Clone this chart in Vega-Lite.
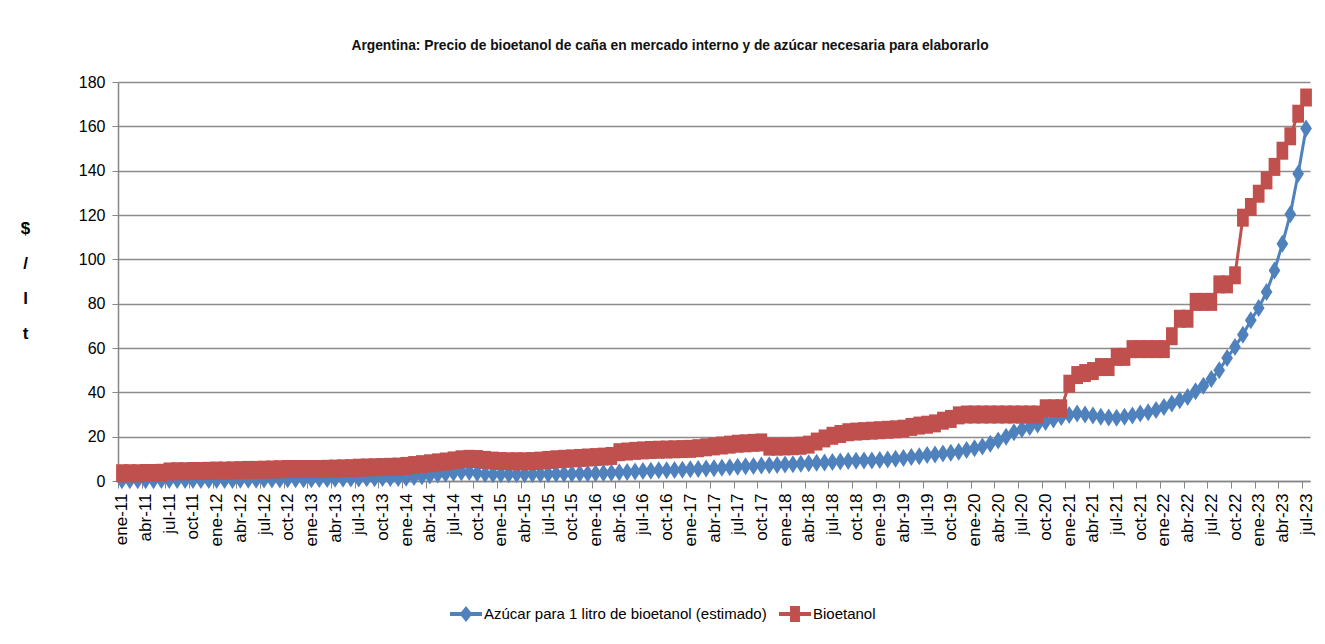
{
  "$schema": "https://vega.github.io/schema/vega-lite/v6.json",
  "width": 1192,
  "height": 399,
  "autosize": "none",
  "padding": {"left": 118, "top": 82, "right": 15, "bottom": 163},
  "background": "white",
  "title": {
    "text": "Argentina: Precio de bioetanol de caña en mercado interno y de azúcar necesaria para elaborarlo",
    "font": "Liberation Sans",
    "fontSize": 13.8,
    "fontWeight": "bold",
    "color": "#111111",
    "anchor": "middle",
    "dx": -44,
    "offset": 21
  },
  "config": {
    "view": {"stroke": null},
    "font": "Liberation Sans"
  },
  "data": {
    "values": [
      {"mes":"ene-11","azucar":0.3,"bioetanol":3.5},{"mes":"feb-11","azucar":0.3,"bioetanol":3.5},{"mes":"mar-11","azucar":0.3,"bioetanol":3.5},{"mes":"abr-11","azucar":0.3,"bioetanol":3.6},{"mes":"may-11","azucar":0.3,"bioetanol":3.6},{"mes":"jun-11","azucar":0.4,"bioetanol":3.7},{"mes":"jul-11","azucar":0.4,"bioetanol":4.3},{"mes":"ago-11","azucar":0.4,"bioetanol":4.4},{"mes":"sep-11","azucar":0.4,"bioetanol":4.4},{"mes":"oct-11","azucar":0.4,"bioetanol":4.5},{"mes":"nov-11","azucar":0.5,"bioetanol":4.5},{"mes":"dic-11","azucar":0.5,"bioetanol":4.6},
      {"mes":"ene-12","azucar":0.5,"bioetanol":4.7},{"mes":"feb-12","azucar":0.5,"bioetanol":4.7},{"mes":"mar-12","azucar":0.5,"bioetanol":4.8},{"mes":"abr-12","azucar":0.6,"bioetanol":4.9},{"mes":"may-12","azucar":0.6,"bioetanol":5.0},{"mes":"jun-12","azucar":0.6,"bioetanol":5.0},{"mes":"jul-12","azucar":0.7,"bioetanol":5.1},{"mes":"ago-12","azucar":0.7,"bioetanol":5.2},{"mes":"sep-12","azucar":0.7,"bioetanol":5.3},{"mes":"oct-12","azucar":0.8,"bioetanol":5.4},{"mes":"nov-12","azucar":0.8,"bioetanol":5.4},{"mes":"dic-12","azucar":0.8,"bioetanol":5.4},
      {"mes":"ene-13","azucar":0.8,"bioetanol":5.4},{"mes":"feb-13","azucar":0.9,"bioetanol":5.4},{"mes":"mar-13","azucar":0.9,"bioetanol":5.5},{"mes":"abr-13","azucar":1.0,"bioetanol":5.6},{"mes":"may-13","azucar":1.0,"bioetanol":5.7},{"mes":"jun-13","azucar":1.1,"bioetanol":5.8},{"mes":"jul-13","azucar":1.1,"bioetanol":6.0},{"mes":"ago-13","azucar":1.2,"bioetanol":6.1},{"mes":"sep-13","azucar":1.2,"bioetanol":6.2},{"mes":"oct-13","azucar":1.3,"bioetanol":6.3},{"mes":"nov-13","azucar":1.3,"bioetanol":6.4},{"mes":"dic-13","azucar":1.4,"bioetanol":6.5},
      {"mes":"ene-14","azucar":1.5,"bioetanol":6.8},{"mes":"feb-14","azucar":1.8,"bioetanol":7.2},{"mes":"mar-14","azucar":2.1,"bioetanol":7.6},{"mes":"abr-14","azucar":2.5,"bioetanol":8.0},{"mes":"may-14","azucar":2.9,"bioetanol":8.4},{"mes":"jun-14","azucar":3.3,"bioetanol":8.8},{"mes":"jul-14","azucar":3.7,"bioetanol":9.3},{"mes":"ago-14","azucar":4.0,"bioetanol":9.8},{"mes":"sep-14","azucar":4.1,"bioetanol":10.0},{"mes":"oct-14","azucar":3.6,"bioetanol":9.9},{"mes":"nov-14","azucar":3.2,"bioetanol":9.5},{"mes":"dic-14","azucar":3.1,"bioetanol":9.2},
      {"mes":"ene-15","azucar":3.1,"bioetanol":9.0},{"mes":"feb-15","azucar":3.1,"bioetanol":8.9},{"mes":"mar-15","azucar":3.1,"bioetanol":8.9},{"mes":"abr-15","azucar":3.1,"bioetanol":8.9},{"mes":"may-15","azucar":3.2,"bioetanol":9.0},{"mes":"jun-15","azucar":3.2,"bioetanol":9.2},{"mes":"jul-15","azucar":3.2,"bioetanol":9.5},{"mes":"ago-15","azucar":3.3,"bioetanol":9.8},{"mes":"sep-15","azucar":3.3,"bioetanol":10.0},{"mes":"oct-15","azucar":3.3,"bioetanol":10.2},{"mes":"nov-15","azucar":3.4,"bioetanol":10.4},{"mes":"dic-15","azucar":3.4,"bioetanol":10.6},
      {"mes":"ene-16","azucar":3.5,"bioetanol":10.8},{"mes":"feb-16","azucar":3.6,"bioetanol":11.0},{"mes":"mar-16","azucar":3.7,"bioetanol":11.3},{"mes":"abr-16","azucar":3.9,"bioetanol":13.0},{"mes":"may-16","azucar":4.1,"bioetanol":13.3},{"mes":"jun-16","azucar":4.3,"bioetanol":13.6},{"mes":"jul-16","azucar":4.5,"bioetanol":13.8},{"mes":"ago-16","azucar":4.6,"bioetanol":14.0},{"mes":"sep-16","azucar":4.8,"bioetanol":14.1},{"mes":"oct-16","azucar":4.9,"bioetanol":14.2},{"mes":"nov-16","azucar":5.0,"bioetanol":14.3},{"mes":"dic-16","azucar":5.1,"bioetanol":14.4},
      {"mes":"ene-17","azucar":5.3,"bioetanol":14.5},{"mes":"feb-17","azucar":5.4,"bioetanol":14.8},{"mes":"mar-17","azucar":5.6,"bioetanol":15.2},{"mes":"abr-17","azucar":5.8,"bioetanol":15.6},{"mes":"may-17","azucar":6.0,"bioetanol":16.0},{"mes":"jun-17","azucar":6.2,"bioetanol":16.4},{"mes":"jul-17","azucar":6.4,"bioetanol":16.8},{"mes":"ago-17","azucar":6.6,"bioetanol":17.0},{"mes":"sep-17","azucar":6.8,"bioetanol":17.2},{"mes":"oct-17","azucar":7.0,"bioetanol":17.4},{"mes":"nov-17","azucar":7.1,"bioetanol":15.5},{"mes":"dic-17","azucar":7.2,"bioetanol":15.5},
      {"mes":"ene-18","azucar":7.4,"bioetanol":15.6},{"mes":"feb-18","azucar":7.6,"bioetanol":15.7},{"mes":"mar-18","azucar":7.8,"bioetanol":15.9},{"mes":"abr-18","azucar":8.0,"bioetanol":16.4},{"mes":"may-18","azucar":8.2,"bioetanol":17.8},{"mes":"jun-18","azucar":8.4,"bioetanol":19.2},{"mes":"jul-18","azucar":8.6,"bioetanol":20.4},{"mes":"ago-18","azucar":8.8,"bioetanol":21.2},{"mes":"sep-18","azucar":9.0,"bioetanol":22.0},{"mes":"oct-18","azucar":9.1,"bioetanol":22.3},{"mes":"nov-18","azucar":9.2,"bioetanol":22.5},{"mes":"dic-18","azucar":9.3,"bioetanol":22.7},
      {"mes":"ene-19","azucar":9.5,"bioetanol":22.9},{"mes":"feb-19","azucar":9.7,"bioetanol":23.1},{"mes":"mar-19","azucar":10.0,"bioetanol":23.3},{"mes":"abr-19","azucar":10.4,"bioetanol":23.6},{"mes":"may-19","azucar":10.8,"bioetanol":24.4},{"mes":"jun-19","azucar":11.2,"bioetanol":25.0},{"mes":"jul-19","azucar":11.7,"bioetanol":25.4},{"mes":"ago-19","azucar":12.0,"bioetanol":26.0},{"mes":"sep-19","azucar":12.4,"bioetanol":27.2},{"mes":"oct-19","azucar":12.7,"bioetanol":28.0},{"mes":"nov-19","azucar":13.2,"bioetanol":29.6},{"mes":"dic-19","azucar":14.0,"bioetanol":30.0},
      {"mes":"ene-20","azucar":14.8,"bioetanol":30.0},{"mes":"feb-20","azucar":15.6,"bioetanol":30.0},{"mes":"mar-20","azucar":16.8,"bioetanol":30.0},{"mes":"abr-20","azucar":18.3,"bioetanol":30.0},{"mes":"may-20","azucar":20.0,"bioetanol":30.0},{"mes":"jun-20","azucar":22.0,"bioetanol":30.0},{"mes":"jul-20","azucar":23.3,"bioetanol":30.0},{"mes":"ago-20","azucar":24.4,"bioetanol":30.0},{"mes":"sep-20","azucar":25.5,"bioetanol":30.0},{"mes":"oct-20","azucar":26.6,"bioetanol":32.8},{"mes":"nov-20","azucar":27.8,"bioetanol":32.8},{"mes":"dic-20","azucar":28.9,"bioetanol":32.8},
      {"mes":"ene-21","azucar":29.8,"bioetanol":43.9},{"mes":"feb-21","azucar":30.4,"bioetanol":47.8},{"mes":"mar-21","azucar":30.0,"bioetanol":48.7},{"mes":"abr-21","azucar":29.5,"bioetanol":49.6},{"mes":"may-21","azucar":29.0,"bioetanol":51.4},{"mes":"jun-21","azucar":28.6,"bioetanol":51.4},{"mes":"jul-21","azucar":28.5,"bioetanol":56.0},{"mes":"ago-21","azucar":29.0,"bioetanol":56.0},{"mes":"sep-21","azucar":29.6,"bioetanol":59.5},{"mes":"oct-21","azucar":30.4,"bioetanol":59.5},{"mes":"nov-21","azucar":31.0,"bioetanol":59.5},{"mes":"dic-21","azucar":32.0,"bioetanol":59.5},
      {"mes":"ene-22","azucar":33.4,"bioetanol":59.5},{"mes":"feb-22","azucar":35.0,"bioetanol":65.3},{"mes":"mar-22","azucar":36.4,"bioetanol":73.2},{"mes":"abr-22","azucar":37.9,"bioetanol":73.2},{"mes":"may-22","azucar":40.5,"bioetanol":80.8},{"mes":"jun-22","azucar":43.0,"bioetanol":80.8},{"mes":"jul-22","azucar":46.0,"bioetanol":80.8},{"mes":"ago-22","azucar":50.0,"bioetanol":88.7},{"mes":"sep-22","azucar":55.5,"bioetanol":88.7},{"mes":"oct-22","azucar":60.5,"bioetanol":92.8},{"mes":"nov-22","azucar":66.0,"bioetanol":118.8},{"mes":"dic-22","azucar":72.5,"bioetanol":123.6},
      {"mes":"ene-23","azucar":78.0,"bioetanol":129.6},{"mes":"feb-23","azucar":85.3,"bioetanol":135.6},{"mes":"mar-23","azucar":95.0,"bioetanol":141.7},{"mes":"abr-23","azucar":107.0,"bioetanol":149.0},{"mes":"may-23","azucar":120.3,"bioetanol":155.5},{"mes":"jun-23","azucar":138.6,"bioetanol":165.7},{"mes":"jul-23","azucar":159.0,"bioetanol":173.0}
    ]
  },
  "encoding": {
    "x": {
      "field": "mes",
      "type": "ordinal",
      "sort": null,
      "title": null,
      "axis": {
        "values": ["ene-11","abr-11","jul-11","oct-11","ene-12","abr-12","jul-12","oct-12","ene-13","abr-13","jul-13","oct-13","ene-14","abr-14","jul-14","oct-14","ene-15","abr-15","jul-15","oct-15","ene-16","abr-16","jul-16","oct-16","ene-17","abr-17","jul-17","oct-17","ene-18","abr-18","jul-18","oct-18","ene-19","abr-19","jul-19","oct-19","ene-20","abr-20","jul-20","oct-20","ene-21","abr-21","jul-21","oct-21","ene-22","abr-22","jul-22","oct-22","ene-23","abr-23","jul-23"],
        "labelAngle": -90,
        "labelFontSize": 17,
        "labelColor": "#000000",
        "labelFont": "Liberation Sans",
        "labelPadding": 5,
        "tickSize": 7,
        "tickColor": "#868686",
        "tickWidth": 1,
        "tickOffset": -4,
        "labelOffset": 4,
        "domainColor": "#868686",
        "domainWidth": 1.5,
        "grid": false
      }
    }
  },
  "layer": [
    {
      "mark": {"type": "line", "strokeWidth": 3},
      "encoding": {
        "y": {
          "field": "azucar",
          "type": "quantitative",
          "scale": {"domain": [0, 180], "nice": false},
          "axis": {
            "values": [0,20,40,60,80,100,120,140,160,180],
            "title": ["$", "/", "l", "t"],
            "titleAngle": 0,
            "titleFont": "Liberation Sans",
            "titleFontSize": 17,
            "titleFontWeight": "bold",
            "titleColor": "#000000",
            "titleLineHeight": 35,
            "titleAlign": "center",
            "titleBaseline": "top",
            "titleX": -93,
            "titleY": 138,
            "labelFontSize": 16,
            "labelFont": "Liberation Sans",
            "labelColor": "#000000",
            "labelPadding": 7,
            "tickSize": 6,
            "tickColor": "#868686",
            "domainColor": "#868686",
            "domainWidth": 1.5,
            "grid": true,
            "gridColor": "#8C8C8C",
            "gridWidth": 1.5
          }
        },
        "color": {
          "datum": "Azúcar para 1 litro de bioetanol (estimado)",
          "type": "nominal",
          "scale": {
            "domain": ["Azúcar para 1 litro de bioetanol (estimado)", "Bioetanol"],
            "range": ["#4F81BD", "#C0504D"]
          },
          "legend": {
            "title": null,
            "orient": "none",
            "legendX": 332,
            "legendY": 516,
            "direction": "horizontal",
            "padding": 0,
            "symbolSize": 1024,
            "symbolStrokeWidth": 0,
            "labelFont": "Liberation Sans",
            "labelFontSize": 15,
            "labelLimit": 0,
            "labelColor": "#000000",
            "labelOffset": 2,
            "columnPadding": 12,
            "encode": {
              "symbols": {
                "update": {
                  "shape": {"signal": "datum.value == 'Bioetanol' ? 'M-1,-0.12H-0.31V-0.5H0.31V-0.12H1V0.12H0.31V0.5H-0.31V0.12H-1Z' : 'M-1,-0.12H-0.3L0,-0.5L0.3,-0.12H1V0.12H0.3L0,0.5L-0.3,0.12H-1Z'"},
                  "fill": {"scale": "color", "field": "value"},
                  "strokeWidth": {"value": 0},
                  "opacity": {"value": 1}
                }
              }
            }
          }
        }
      }
    },
    {
      "mark": {"type": "point", "filled": true, "opacity": 1, "shape": "M0,-1L0.65,0L0,1L-0.65,0Z", "size": 324, "strokeWidth": 0},
      "encoding": {
        "y": {"field": "azucar", "type": "quantitative"},
        "color": {"datum": "Azúcar para 1 litro de bioetanol (estimado)", "type": "nominal"}
      }
    },
    {
      "mark": {"type": "line", "strokeWidth": 3},
      "encoding": {
        "y": {"field": "bioetanol", "type": "quantitative"},
        "color": {"datum": "Bioetanol", "type": "nominal"}
      }
    },
    {
      "mark": {"type": "point", "filled": true, "opacity": 1, "shape": "M-0.65,-1H0.65V1H-0.65Z", "size": 324, "strokeWidth": 0},
      "encoding": {
        "y": {"field": "bioetanol", "type": "quantitative"},
        "color": {"datum": "Bioetanol", "type": "nominal"}
      }
    }
  ]
}
